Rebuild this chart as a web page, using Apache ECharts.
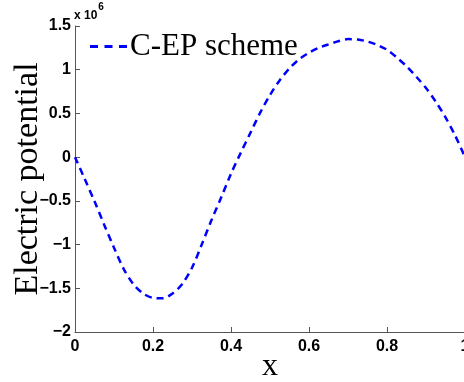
<!DOCTYPE html>
<html>
<head>
<meta charset="utf-8">
<script src="https://cdn.jsdelivr.net/npm/echarts@6/dist/echarts.min.js"></script>
<style>
  html, body { margin: 0; padding: 0; background: #fff; }
  #chart { width: 464px; height: 382px; }
</style>
</head>
<body>
<div id="chart"></div>
<script>
// Electric potential along x (values in units of 10^6)
const xValues = [
  0, 0.025, 0.05, 0.075, 0.1, 0.125, 0.15, 0.175, 0.2, 0.225,
  0.25, 0.275, 0.3, 0.325, 0.35, 0.375, 0.4, 0.425, 0.45, 0.475,
  0.5, 0.525, 0.55, 0.575, 0.6, 0.625, 0.65, 0.675, 0.7, 0.725,
  0.75, 0.775, 0.8, 0.825, 0.85, 0.875, 0.9, 0.925, 0.95, 0.975, 1
];
const potential = [
  0, -0.25, -0.505, -0.775, -1.035, -1.28, -1.455, -1.56, -1.61, -1.615,
  -1.56, -1.45, -1.265, -1.0, -0.72, -0.46, -0.19, 0.05, 0.28, 0.51,
  0.71, 0.88, 1.015, 1.12, 1.195, 1.25, 1.29, 1.325, 1.35, 1.345,
  1.322, 1.283, 1.228, 1.14, 1.04, 0.92, 0.79, 0.635, 0.455, 0.245, 0
];
const seriesName = 'C-EP scheme';
const xTicks = { min: 0, max: 1, step: 0.2 };
const yTicks = { min: -2, max: 1.5, step: 0.5 };

const fmt = v => {
  const r = Math.round(v * 10) / 10;
  if (r === 0) return '0';
  return (r < 0 ? '\u2212' : '') + String(Math.abs(r));
};

const axisGray = '#555';
const tickFont = { fontFamily: 'Liberation Sans', fontWeight: 'bold', fontSize: 16, color: '#000' };
const serif = 'Liberation Serif';

// three short dashes, used as the legend key
const dashIcon = 'path://M0,0h8v3h-8z M14.5,0h8v3h-8z M29,0h8v3h-8z';

const chart = echarts.init(document.getElementById('chart'), null, { renderer: 'canvas' });
chart.setOption({
  animation: false,
  backgroundColor: '#fff',
  grid: { left: 75, right: -1, top: 26, bottom: 50, containLabel: false, outerBoundsMode: 'none' },
  legend: {
    data: [{ name: seriesName, icon: dashIcon }],
    left: 90,
    top: 31,
    padding: 0,
    itemWidth: 37,
    itemHeight: 3,
    itemGap: 4,
    itemStyle: { color: '#0000ff', borderWidth: 0 },
    textStyle: { fontFamily: serif, fontSize: 31, color: '#000', padding: [0, 0, 0, -2] }
  },
  xAxis: {
    type: 'value',
    min: xTicks.min, max: xTicks.max, interval: xTicks.step,
    name: 'x',
    nameLocation: 'middle',
    nameGap: 19,
    nameMoveOverlap: false,
    nameTextStyle: { fontFamily: serif, fontSize: 32, color: '#000' },
    axisLine: { show: true, onZero: false, lineStyle: { color: axisGray, width: 1 } },
    axisTick: { show: true, inside: true, length: 5, lineStyle: { color: axisGray } },
    axisLabel: Object.assign({ margin: 7, formatter: fmt, showMaxLabel: true, hideOverlap: false }, tickFont),
    splitLine: { show: false }
  },
  yAxis: {
    type: 'value',
    min: yTicks.min, max: yTicks.max, interval: yTicks.step,
    name: 'Electric potential',
    nameLocation: 'middle',
    nameRotate: 90,
    nameGap: 30,
    nameMoveOverlap: false,
    nameTextStyle: { fontFamily: serif, fontSize: 34, color: '#000' },
    axisLine: { show: true, onZero: false, lineStyle: { color: axisGray, width: 1 } },
    axisTick: { show: true, inside: true, length: 5, lineStyle: { color: axisGray } },
    axisLabel: Object.assign({ margin: 4, formatter: fmt }, tickFont),
    splitLine: { show: false }
  },
  graphic: [{
    type: 'text',
    left: 74,
    top: 2,
    style: {
      text: '{b|x 10}{s|6}',
      rich: {
        b: { fontFamily: 'Liberation Sans', fontWeight: 'bold', fontSize: 12, color: '#000', padding: [8, 0, 0, 0] },
        s: { fontFamily: 'Liberation Sans', fontWeight: 'bold', fontSize: 10, color: '#000', verticalAlign: 'top', padding: [0, 0, 0, 1] }
      }
    }
  }],
  series: [{
    name: seriesName,
    type: 'line',
    data: xValues.map((x, i) => [x, potential[i]]),
    smooth: 0.3,
    symbol: 'none',
    lineStyle: { color: '#0000ff', width: 2.5, type: [7, 5] },
    itemStyle: { color: '#0000ff' }
  }]
});
</script>
</body>
</html>
